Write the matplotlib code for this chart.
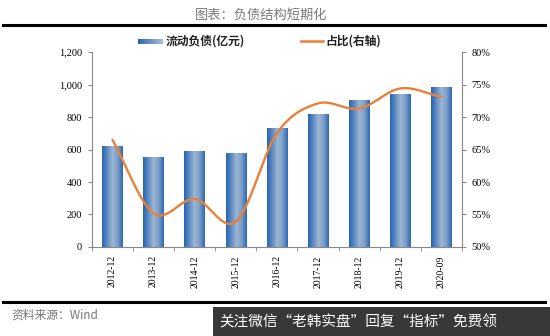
import numpy as np
import matplotlib
matplotlib.use("Agg")
import matplotlib.pyplot as plt
from matplotlib.patches import Rectangle
from matplotlib.lines import Line2D
from matplotlib.colors import LinearSegmentedColormap

plt.rcParams['font.family'] = ['Noto Sans CJK SC', 'DejaVu Sans']

# Data
periods = ["2012-12", "2013-12", "2014-12", "2015-12", "2016-12",
           "2017-12", "2018-12", "2019-12", "2020-09"]
current_liab = [620, 550, 590, 575, 730, 815, 900, 940, 980]      # 亿元
share_pct = [66.5, 55.2, 57.4, 53.9, 67.5, 72.1, 71.3, 74.4, 73.1]  # %

left_ticks = [0, 200, 400, 600, 800, 1000, 1200]
right_ticks = [50, 55, 60, 65, 70, 75, 80]

bar_cmap = LinearSegmentedColormap.from_list(
    "bar", ["#2865b0", "#5c8bc4", "#9db6d2", "#7c9ec8", "#2c69b4"])
line_color = "#e8803a"
serif = "Liberation Serif"


def catmull_rom(xs, ys, n=30):
    xs = np.asarray(xs, float)
    ys = np.asarray(ys, float)
    px = np.concatenate([[2 * xs[0] - xs[1]], xs, [2 * xs[-1] - xs[-2]]])
    py = np.concatenate([[2 * ys[0] - ys[1]], ys, [2 * ys[-1] - ys[-2]]])
    ox, oy = [], []
    for i in range(1, len(px) - 2):
        t = np.linspace(0, 1, n, endpoint=False)
        for p, out in ((px, ox), (py, oy)):
            p0, p1, p2, p3 = p[i - 1], p[i], p[i + 1], p[i + 2]
            out.extend(0.5 * ((2 * p1) + (-p0 + p2) * t
                              + (2 * p0 - 5 * p1 + 4 * p2 - p3) * t ** 2
                              + (-p0 + 3 * p1 - 3 * p2 + p3) * t ** 3))
    ox.append(xs[-1])
    oy.append(ys[-1])
    return np.array(ox), np.array(oy)


fig = plt.figure(figsize=(5.5, 3.36), dpi=100)
ax = fig.add_axes([0.167, 0.265, 0.673, 0.58])
x = np.arange(len(periods))
width = 0.5

bars = ax.bar(x, current_liab, width=width, color="none", edgecolor="none", zorder=2)
grad = np.linspace(0, 1, 64).reshape(1, -1)
for b in bars:
    bx, bw, bh = b.get_x(), b.get_width(), b.get_height()
    ax.imshow(grad, cmap=bar_cmap, aspect="auto", extent=[bx, bx + bw, 0, bh],
              zorder=2, interpolation="bilinear")

ax.set_xlim(-0.5, len(periods) - 0.5)
ax.set_ylim(0, 1200)
ax.set_yticks(left_ticks)
ax.set_yticklabels([f"{v:,}" for v in left_ticks], fontfamily=serif, fontsize=7.5)
ax.set_xticks(x)
ax.set_xticklabels(periods, rotation=90, fontfamily=serif, fontsize=7)
ax.set_xticks(np.arange(-0.5, len(periods), 1), minor=True)
ax.tick_params(axis="x", which="major", length=0, pad=6)
ax.tick_params(axis="x", which="minor", length=3, color="#888888", direction="out")
ax.tick_params(axis="y", length=3, color="#888888", pad=4)
for s in ("top", "right"):
    ax.spines[s].set_visible(False)
for s in ("left", "bottom"):
    ax.spines[s].set_color("#888888")

ax2 = ax.twinx()
sx, sy = catmull_rom(x, share_pct)
ax2.plot(sx, sy, color=line_color, lw=1.7, zorder=3, solid_capstyle="round")
ax2.set_ylim(50, 80)
ax2.set_yticks(right_ticks)
ax2.set_yticklabels([f"{v}%" for v in right_ticks], fontfamily=serif, fontsize=7.5)
ax2.tick_params(axis="y", length=3, color="#888888", pad=4)
for s in ("top", "left", "bottom"):
    ax2.spines[s].set_visible(False)
ax2.spines["right"].set_color("#888888")

# Header
fig.text(0.475, 0.955, "图表：负债结构短期化", ha="center", va="center",
         fontsize=9.5, color="#7a7a7a")
fig.add_artist(Line2D([0.006, 0.99], [0.925, 0.925], color="black", lw=2.2))

# Legend
lg = np.linspace(0, 1, 32).reshape(1, -1)
lax = fig.add_axes([0.251, 0.868, 0.045, 0.017])
lax.imshow(lg, cmap=LinearSegmentedColormap.from_list("lg", ["#2a66ae", "#a9c0db"]),
           aspect="auto")
lax.axis("off")
fig.text(0.301, 0.877, "流动负债(亿元)", ha="left", va="center",
         fontsize=8.5, fontweight="bold", color="#222222")
fig.add_artist(Line2D([0.548, 0.588], [0.877, 0.877], color=line_color, lw=1.8))
fig.text(0.592, 0.877, "占比(右轴)", ha="left", va="center",
         fontsize=8.5, fontweight="bold", color="#222222")

# Footer
fig.add_artist(Line2D([0.006, 0.99], [0.1, 0.1], color="black", lw=2.2))
fig.text(0.02, 0.062, "资料来源：Wind", ha="left", va="center",
         fontsize=8.5, color="#777777", style="italic")
fig.add_artist(Rectangle((0.388, 0.0), 0.612, 0.085, transform=fig.transFigure,
                         facecolor="#383838", edgecolor="none"))
fig.text(0.398, 0.041, "关注微信“老韩实盘”回复“指标”免费领", ha="left", va="center",
         fontsize=10.5, color="white")

fig.savefig("out.png", dpi=100)
